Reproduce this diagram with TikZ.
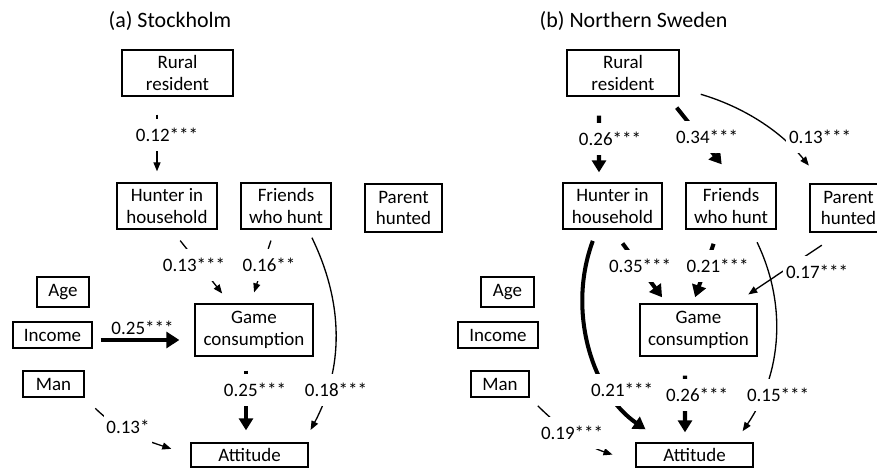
\documentclass[tikz,border=0pt]{standalone}
\usepackage{fontspec}
\setmainfont{Carlito}
\usetikzlibrary{arrows.meta}

\tikzset{
  box/.style={draw, rectangle, line width=0.75pt, align=center, inner sep=1pt},
  lbl/.style={fill=white, inner xsep=1.5pt, inner ysep=5pt},
  weak/.style={line width=0.75pt, -{Triangle[length=0.18cm,width=0.14cm]}},
  strong/.style={line width=2.3pt, -{Triangle[length=0.24cm,width=0.28cm]}},
  strongest/.style={line width=2.8pt, -{Triangle[length=0.26cm,width=0.32cm]}},
}

\begin{document}
\begin{tikzpicture}[font=\fontsize{10.8pt}{12.5pt}\selectfont]
  \useasboundingbox (0,0) rectangle (17.54,-9.36);
  \clip (0,0) rectangle (17.54,-9.36);
  % (a) Stockholm
  \node[font=\fontsize{12.5pt}{14pt}\selectfont] (titleA) at (3.40,-0.42) {(a) Stockholm};
  \node[box, minimum width=2.22cm, minimum height=0.92cm] (ruralA) at (3.55,-1.46) {Rural\\resident};
  \node[box, minimum width=2.00cm, minimum height=0.92cm] (hunterA) at (3.34,-4.12) {Hunter in\\household};
  \node[box, minimum width=1.80cm, minimum height=0.92cm] (friendsA) at (5.72,-4.12) {Friends\\who hunt};
  \node[box, minimum width=1.54cm, minimum height=0.96cm] (parentA) at (8.07,-4.16) {Parent\\hunted};
  \node[box, minimum width=1.04cm, minimum height=0.60cm] (ageA) at (1.26,-5.84) {Age};
  \node[box, minimum width=1.58cm, minimum height=0.52cm] (incomeA) at (1.05,-6.70) {Income};
  \node[box, minimum width=1.22cm, minimum height=0.52cm] (manA) at (1.07,-7.68) {Man};
  \node[box, minimum width=2.36cm, minimum height=1.04cm] (gameA) at (5.08,-6.60) {Game\\consumption};
  \node[box, minimum width=2.34cm, minimum height=0.48cm] (attA) at (4.99,-9.10) {Attitude};
  % paths
  \draw[weak, shorten <=0.36cm, shorten >=0.22cm] ([xshift=-0.41cm]ruralA.south) -- ([xshift=-0.20cm]hunterA.north);
  \draw[weak, shorten <=0.28cm, shorten >=0.25cm] ([xshift=0.09cm]hunterA.south) -- ([xshift=-0.48cm]gameA.north);
  \draw[weak, shorten <=0.23cm, shorten >=0.23cm] ([xshift=-0.23cm]friendsA.south) -- ([xshift=-0.07cm]gameA.north);
  \draw[strongest, shorten <=0.16cm, shorten >=0.30cm] ([yshift=-0.10cm]incomeA.east) -- ([yshift=-0.20cm]gameA.west);
  \draw[strong, shorten <=0.28cm, shorten >=0.24cm] ([xshift=-0.16cm]gameA.south) -- ([xshift=-0.07cm]attA.north);
  \draw[weak, shorten <=0.30cm, shorten >=0.40cm] (manA.south east) to[out=-45, in=162] (attA.west);
  \draw[weak, shorten <=0.18cm, shorten >=0.28cm] ([xshift=0.44cm]friendsA.south) to[bend left=27] ([xshift=1.09cm]attA.north);
  \node[lbl] (lA1) at (3.34,-2.70) {0.12***};
  \node[lbl] (lA2) at (3.88,-5.30) {0.13***};
  \node[lbl] (lA3) at (5.38,-5.30) {0.16**};
  \node[inner sep=1pt] (lA4) at (2.85,-6.56) {0.25***};
  \node[lbl] (lA5) at (5.10,-7.80) {0.25***};
  \node[lbl] (lA6) at (2.56,-8.54) {0.13*};
  \node[lbl] (lA7) at (6.72,-7.80) {0.18***};

  % (b) Northern Sweden
  \node[font=\fontsize{12.5pt}{14pt}\selectfont] (titleB) at (12.67,-0.42) {(b) Northern Sweden};
  \node[box, minimum width=2.24cm, minimum height=0.92cm] (ruralB) at (12.46,-1.46) {Rural\\resident};
  \node[box, minimum width=1.98cm, minimum height=0.92cm] (hunterB) at (12.25,-4.12) {Hunter in\\household};
  \node[box, minimum width=1.80cm, minimum height=0.92cm] (friendsB) at (14.62,-4.12) {Friends\\who hunt};
  \node[box, minimum width=1.54cm, minimum height=0.96cm] (parentB) at (16.97,-4.16) {Parent\\hunted};
  \node[box, minimum width=1.06cm, minimum height=0.60cm] (ageB) at (10.15,-5.84) {Age};
  \node[box, minimum width=1.60cm, minimum height=0.52cm] (incomeB) at (9.96,-6.70) {Income};
  \node[box, minimum width=1.16cm, minimum height=0.52cm] (manB) at (10.00,-7.68) {Man};
  \node[box, minimum width=2.34cm, minimum height=1.04cm] (gameB) at (13.97,-6.60) {Game\\consumption};
  \node[box, minimum width=2.34cm, minimum height=0.48cm] (attB) at (13.89,-9.10) {Attitude};
  % paths
  \draw[strong, shorten <=0.38cm, shorten >=0.20cm] ([xshift=-0.48cm]ruralB.south) -- ([xshift=-0.27cm]hunterB.north);
  \draw[strong, shorten <=0.28cm, shorten >=0.46cm] ([xshift=0.90cm]ruralB.south) -- ([xshift=0.10cm]friendsB.north);
  \draw[weak, shorten <=0.44cm, shorten >=0.46cm] ([yshift=-0.30cm]ruralB.east) to[bend left=17] ([xshift=-0.50cm]parentB.north);
  \draw[strong, shorten <=0.34cm, shorten >=0.15cm] (hunterB.south) -- ([xshift=-0.64cm]gameB.north);
  \draw[strong, shorten <=0.30cm, shorten >=0.13cm] ([xshift=-0.25cm]friendsB.south) -- ([xshift=-0.11cm]gameB.north);
  \draw[weak, shorten <=0.45cm, shorten >=0.32cm] ([xshift=-0.16cm]parentB.south) -- ([xshift=0.73cm]gameB.north);
  \draw[strong, shorten <=0.24cm, shorten >=0.46cm] ([xshift=-0.31cm]hunterB.south) to[bend right=38] ([xshift=-0.60cm]attB.north);
  \draw[strong, shorten <=0.38cm, shorten >=0.20cm] ([xshift=-0.27cm]gameB.south) -- ([xshift=-0.19cm]attB.north);
  \draw[weak, shorten <=0.28cm, shorten >=0.27cm] ([xshift=0.40cm]friendsB.south) to[bend left=30] ([xshift=0.81cm]attB.north);
  \draw[weak, shorten <=0.23cm, shorten >=0.48cm] (manB.south east) to[out=-45, in=162] ([yshift=-0.14cm]attB.west);
  \node[lbl] (lB1) at (12.20,-2.78) {0.26***};
  \node[lbl] (lB2) at (14.14,-2.74) {0.34***};
  \node[lbl] (lB3) at (16.40,-2.74) {0.13***};
  \node[lbl] (lB4) at (12.80,-5.32) {0.35***};
  \node[lbl] (lB5) at (14.35,-5.32) {0.21***};
  \node[lbl] (lB6) at (16.34,-5.44) {0.17***};
  \node[lbl] (lB7) at (12.44,-7.80) {0.21***};
  \node[lbl] (lB8) at (13.94,-7.90) {0.26***};
  \node[lbl] (lB9) at (15.56,-7.90) {0.15***};
  \node[lbl] (lB10) at (11.44,-8.66) {0.19***};
\end{tikzpicture}
\end{document}
